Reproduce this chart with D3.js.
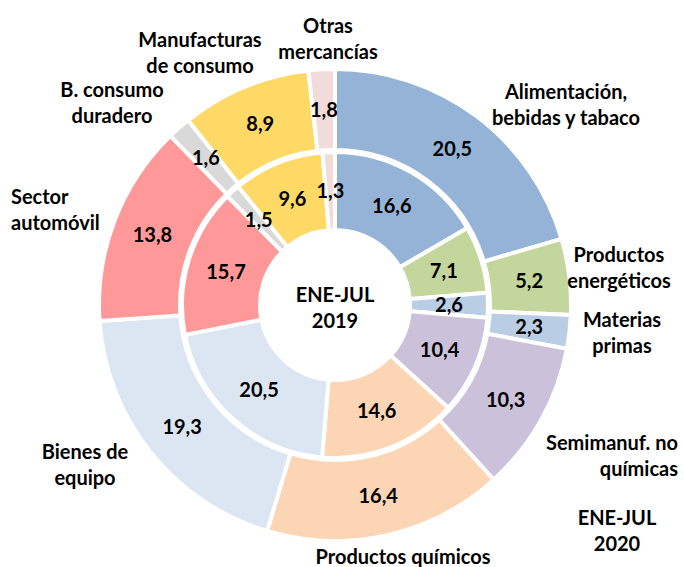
<!DOCTYPE html>
<html lang="es">

<head>
  <meta charset="utf-8">
  <title>Exportaciones por sectores ENE-JUL</title>
  <script src="https://d3js.org/d3.v7.min.js" charset="utf-8"></script>
  <style>
    body { margin: 0; background: #fff; }
    text { font-family: Lato, "Open Sans", sans-serif; font-weight: bold; fill: #000; }
  </style>
</head>

<body>

  <script type="text/javascript">

    // sectores, en el sentido de las agujas del reloj desde las 12
    const categories = [
      "Alimentación, bebidas y tabaco", "Productos energéticos", "Materias primas",
      "Semimanuf. no químicas", "Productos químicos", "Bienes de equipo",
      "Sector automóvil", "B. consumo duradero", "Manufacturas de consumo", "Otras mercancías"
    ]
    const values2019 = [16.6, 7.1, 2.6, 10.4, 14.6, 20.5, 15.7, 1.5, 9.6, 1.3]
    const values2020 = [20.5, 5.2, 2.3, 10.3, 16.4, 19.3, 13.8, 1.6, 8.9, 1.8]
    const colors = ["#95b3d7", "#c3d69b", "#b9cde5", "#ccc1da", "#fcd5b5",
      "#dce6f2", "#ff9999", "#d9d9d9", "#ffd966", "#f2dcdb"]

    // etiquetas de sector: lineas y posicion (x, y, anclaje)
    const catLines = [
      ["Alimentación,", "bebidas y tabaco"], ["Productos", "energéticos"], ["Materias", "primas"],
      ["Semimanuf. no", "químicas"], ["Productos químicos"], ["Bienes de", "equipo"],
      ["Sector", "automóvil"], ["B. consumo", "duradero"], ["Manufacturas", "de consumo"], ["Otras", "mercancías"]
    ]
    const catPos = [
      [566, 92, "middle"], [619, 255, "middle"], [622, 320, "middle"],
      [678, 443, "end"], [403, 557, "middle"], [85, 452, "middle"],
      [11, 197, "start"], [112, 90, "middle"], [200, 40, "middle"], [328, 26, "middle"]
    ]

    const width = 684, height = 567
    const cx = 335, cy = 305
    const fs = 20
    const fmt = d3.formatLocale({ decimal: ",", thousands: ".", grouping: [3], currency: ["", "€"] }).format(".1f")
    const color = d3.scaleOrdinal(categories, colors)

    const pie = d3.pie().sort(null).value(d => d.v)

    const svg = d3.select("body").append("svg")
      .attr("width", width)
      .attr("height", height)

    const g = svg.append("g").attr("transform", `translate(${cx},${cy})`)

    function ring(values, r0, r1) {
      const arcs = pie(values.map((v, i) => ({ v, name: categories[i] })))
      const arc = d3.arc().innerRadius(r0).outerRadius(r1)
      const rg = g.append("g")
      rg.selectAll("path")
        .data(arcs)
        .join("path")
        .attr("d", arc)
        .attr("fill", d => color(d.data.name))
        .attr("stroke", "#fff")
        .attr("stroke-width", 4)
      rg.selectAll("text")
        .data(arcs)
        .join("text")
        .attr("transform", d => `translate(${arc.centroid(d)})`)
        .attr("text-anchor", "middle")
        .attr("dy", "0.35em")
        .attr("font-size", fs)
        .text(d => fmt(d.data.v))
    }

    ring(values2019, 75, 153)
    ring(values2020, 155, 236)

    // texto central
    g.append("text")
      .attr("text-anchor", "middle")
      .attr("font-size", fs)
      .selectAll("tspan")
      .data(["ENE-JUL", "2019"])
      .join("tspan")
      .attr("x", 0)
      .attr("y", (d, i) => -10 + i * 26)
      .attr("dy", "0.35em")
      .text(d => d)

    // etiquetas de sectores
    svg.append("g")
      .selectAll("text")
      .data(catLines)
      .join("text")
      .attr("text-anchor", (d, i) => catPos[i][2])
      .attr("font-size", fs)
      .each(function (lines, i) {
        d3.select(this).selectAll("tspan")
          .data(lines)
          .join("tspan")
          .attr("x", catPos[i][0])
          .attr("y", (d, j) => catPos[i][1] + j * 26)
          .attr("dy", "0.35em")
          .text(d => d)
      })

    svg.append("text")
      .attr("text-anchor", "middle")
      .attr("font-size", fs)
      .selectAll("tspan")
      .data(["ENE-JUL", "2020"])
      .join("tspan")
      .attr("x", 617)
      .attr("y", (d, i) => 518 + i * 26)
      .attr("dy", "0.35em")
      .text(d => d)

  </script>
</body>

</html>
